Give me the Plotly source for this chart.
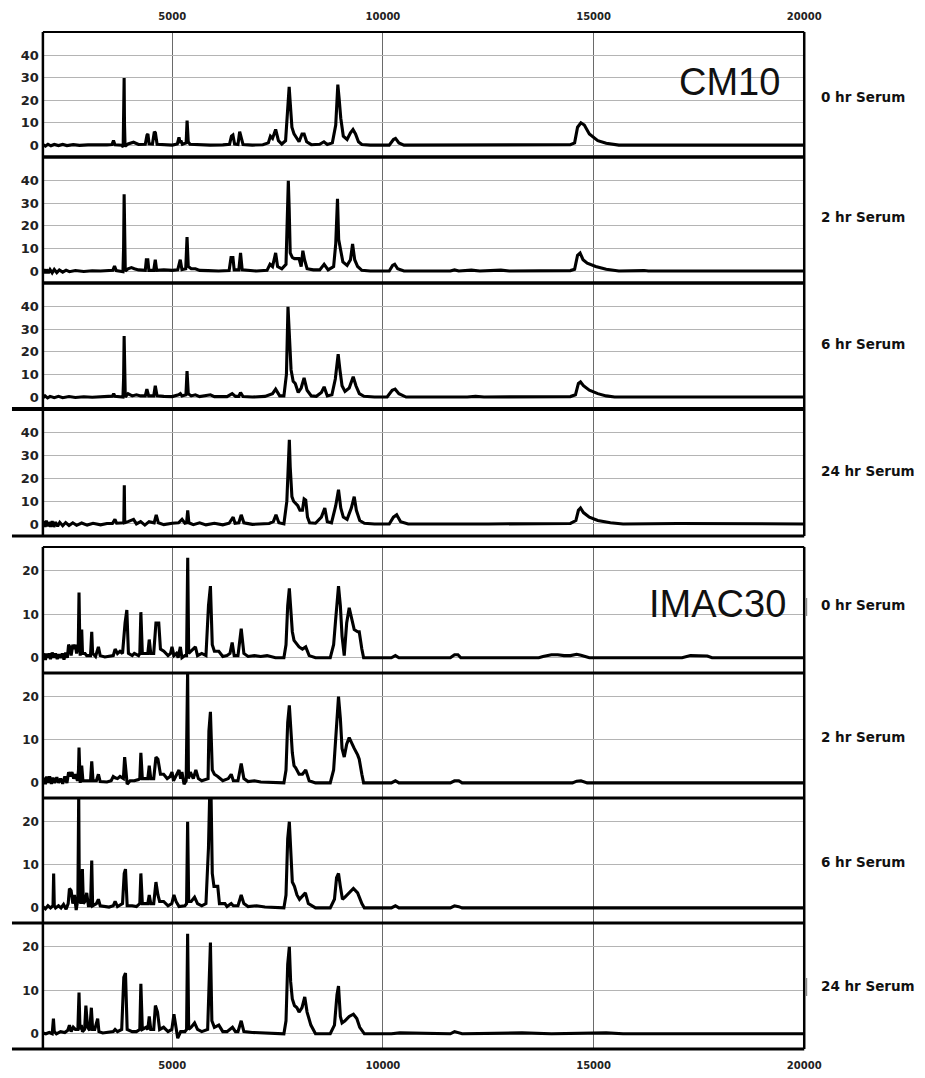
import plotly.graph_objects as go

W, H = 925, 1078
W_EFF = 910  # effective horizontal extent observed in the rendered page

# ---------------- data ----------------
mass_range = [1930, 20000]
mass_ticks = [5000, 10000, 15000, 20000]
mass_tick_text = ["5000", "10000", "15000", "20000"]
cm10_ticks = [0, 10, 20, 30, 40]
imac_ticks = [0, 10, 20]
cm10_range = [-5.3, 50.5]
imac_range = [-3.5, 25.5]
time_labels = ["0 hr Serum", "2 hr Serum", "6 hr Serum", "24 hr Serum"]
chip_labels = ["CM10", "IMAC30"]

# spectra as flattened (m/z, intensity) vertex pairs
cm10_0h = [1930,0.3, 1990,-0.4, 2050,0.4, 2120,-0.3, 2200,0.3, 2300,-0.2, 2400,0.3, 2500,-0.2, 2650,0.2, 2800,-0.1,
           3000,0.1, 3200,0, 3450,0.1, 3570,0.3, 3605,2, 3640,0.2, 3800,0, 3835,-0.8, 3850,12, 3858,30, 3866,10,
           3880,-0.5, 3950,0.5, 4081,1.3, 4200,0.3, 4360,0.4, 4400,4.5, 4422,5, 4450,0.6, 4530,0.5, 4575,6, 4600,5.5,
           4640,0.4, 4800,0.2, 5000,0, 5120,0.5, 5160,3.5, 5185,1, 5205,2, 5240,0.4, 5330,1, 5352,11, 5380,1.5,
           5420,0.4, 5600,0.2, 5900,0, 6200,0.1, 6360,0.4, 6405,4, 6440,4.5, 6480,0.5, 6560,0.3, 6600,6, 6635,3,
           6680,0.3, 6900,0, 7150,0.2, 7280,1, 7330,4, 7380,3, 7454,7, 7520,2, 7600,0.5, 7690,2, 7745,16, 7775,26,
           7800,19, 7840,8, 7890,5, 7950,3, 8010,1.5, 8080,5, 8130,5, 8190,1.5, 8300,0.2, 8500,0.4, 8600,1.5,
           8680,0.3, 8800,1, 8880,9, 8930,27, 8960,21, 9000,12, 9060,4, 9150,2.5, 9230,5.5, 9290,7, 9350,5,
           9420,1.5, 9500,0.3, 9700,0, 10150,0, 10250,2.5, 10300,3, 10380,1, 10500,0, 11500,0, 12200,0.3, 12350,0,
           13000,0.3, 13200,0, 14000,0.2, 14450,0.2, 14550,1, 14620,8, 14700,10, 14780,9, 14900,5, 15100,2,
           15300,0.8, 15600,0, 20000,0]

cm10_2h = [1930,-0.8, 1960,0.8, 1990,-1, 2020,0.7, 2060,-0.9, 2100,0.6, 2150,-0.8, 2200,0.7, 2260,-0.7, 2320,0.5,
           2400,-0.5, 2480,0.4, 2560,-0.3, 2700,0.2, 2900,-0.2, 3100,0.1, 3300,0, 3500,0.1, 3590,0.3, 3630,2.2,
           3670,0.2, 3830,-0.3, 3845,10, 3858,34, 3868,10, 3885,0, 3950,1, 4030,1.5, 4100,1, 4200,0.5, 4360,0.3,
           4385,5, 4420,5, 4445,0.3, 4560,0.3, 4597,5, 4630,0.3, 4800,0.5, 5000,0.3, 5130,0.5, 5190,5, 5230,0.6,
           5320,1, 5351,15, 5380,2, 5450,1, 5550,1, 5650,0.3, 5850,0.2, 6100,0, 6350,0.2, 6395,6, 6440,6, 6470,0.5,
           6580,0.5, 6621,8, 6660,0.5, 6800,0.3, 7000,0, 7250,0.3, 7320,3, 7380,2, 7454,8, 7500,2, 7600,1, 7700,3,
           7740,28, 7755,40, 7775,28, 7800,8, 7850,6, 7900,5.5, 7960,5.5, 8010,5.5, 8060,2, 8100,9, 8140,5, 8200,1,
           8350,0.5, 8500,0.5, 8605,3, 8700,0.5, 8830,2, 8880,12, 8922,32, 8950,14, 8990,10, 9050,4, 9150,2.5,
           9230,5, 9280,12, 9330,5, 9400,2, 9500,0.3, 9700,0, 10150,0, 10230,2.5, 10280,3, 10350,1, 10500,0,
           11600,0, 11700,0.5, 11800,0, 12100,0.4, 12300,0, 12800,0.4, 13000,0, 14450,0.2, 14550,0.8, 14620,7,
           14680,8, 14750,5, 14850,3.5, 15050,2, 15300,0.8, 15600,0, 16200,0.2, 16300,0, 20000,0]

cm10_6h = [1930,-0.4, 1980,0.5, 2040,-0.4, 2100,0.3, 2200,-0.3, 2300,0.3, 2400,-0.3, 2550,0.2, 2700,-0.2, 2900,0.1,
           3100,-0.1, 3300,0, 3500,0.2, 3580,0.4, 3610,1.5, 3640,0.3, 3830,0, 3845,8, 3858,27, 3868,8, 3885,0,
           3950,1.5, 4050,0.5, 4150,1, 4250,0.5, 4360,0.5, 4398,3.5, 4440,0.5, 4560,0.5, 4597,5, 4640,0.5, 4800,0.3,
           5000,0.2, 5150,1, 5192,1.5, 5230,0.5, 5325,1, 5351,11.5, 5380,1.5, 5450,0.5, 5549,1, 5650,0.2, 5906,1,
           6000,0.2, 6300,0.2, 6422,1.5, 6500,0.3, 6580,0.3, 6621,2, 6680,0.2, 6900,0, 7200,0.3, 7380,1.5, 7454,3.5,
           7550,0.5, 7650,0.5, 7710,10, 7747,40, 7780,28, 7820,12, 7870,7, 7920,6, 7990,2, 8060,4, 8129,8.5,
           8200,3, 8300,0.5, 8420,0.3, 8540,2, 8605,4.5, 8680,0.5, 8790,1, 8870,8, 8938,19, 8980,12, 9030,5,
           9100,2.5, 9200,4, 9295,9, 9360,5, 9440,1.5, 9550,0.3, 9800,0, 10100,0, 10220,3, 10290,3.5, 10380,1.5,
           10550,0, 12000,0, 12200,0.3, 12400,0, 14450,0.2, 14570,1, 14640,6, 14690,6.7, 14760,5, 14900,3,
           15100,1.5, 15300,0.5, 15500,0, 20000,0]

cm10_24h = [1930,-0.8, 1950,1.2, 1980,-1.3, 2010,1.5, 2040,-1, 2070,0.8, 2110,-1.2, 2150,1.2, 2190,-1.3, 2230,0.8,
            2280,-1, 2330,0.7, 2400,-0.8, 2470,0.6, 2550,-0.7, 2640,0.5, 2730,-0.6, 2850,0.4, 2980,-0.5, 3120,0.3,
            3300,-0.4, 3450,0.2, 3580,0.2, 3640,2, 3680,0.3, 3850,0.5, 3862,17, 3872,0.5, 3950,1, 4081,2, 4150,0,
            4250,1, 4350,-0.5, 4450,1, 4570,0.5, 4620,4, 4670,0.5, 4800,-0.3, 5000,0.3, 5150,0.5, 5232,2, 5300,0.3,
            5340,0.5, 5367,6, 5395,0.5, 5500,-0.3, 5650,0.5, 5800,-0.4, 6000,0.3, 6200,-0.4, 6350,0.3, 6420,2,
            6446,3, 6490,0.3, 6580,0.5, 6637,4, 6700,0.5, 6900,-0.2, 7100,0, 7300,0.2, 7400,1, 7462,4, 7530,0.5,
            7650,0, 7720,10, 7760,25, 7779,37, 7800,25, 7840,12, 7880,10, 7930,9, 7980,8, 8030,6, 8090,6, 8130,11,
            8168,10.5, 8210,3, 8260,0.5, 8400,0.3, 8540,3, 8621,7, 8680,1, 8780,0.5, 8880,8, 8946,15, 9000,7,
            9060,3, 9150,2, 9250,7, 9319,12, 9370,6, 9450,1.5, 9560,0.3, 9800,0, 10150,0, 10250,3, 10327,4,
            10420,1, 10600,0, 11600,0, 11800,-0.2, 12500,0, 14450,0.2, 14580,1.5, 14640,6, 14690,7, 14760,5,
            14900,3, 15100,1.5, 15400,0.5, 15700,0, 17000,0.2, 20000,0]

imac_0h = [1930,0.3, 1960,1, 1990,-0.5, 2020,1, 2050,0, 2080,1, 2110,-0.3, 2150,1.2, 2190,0, 2230,1, 2270,-0.3,
           2310,0.8, 2350,0, 2390,1, 2430,-0.4, 2470,1.2, 2510,0, 2540,3, 2570,2.5, 2600,0.5, 2640,3, 2670,2,
           2700,3, 2730,1, 2770,3, 2787,15, 2800,7, 2815,0.5, 2851,6.5, 2870,1, 2930,1, 2970,0.5, 3060,0.5, 3089,6,
           3110,1, 3180,0.3, 3247,2.5, 3290,0.5, 3400,0.2, 3500,0.3, 3600,0.5, 3644,2, 3700,1, 3760,1.5, 3820,1,
           3880,8, 3922,11, 3960,1, 4050,0.5, 4100,1, 4200,0.5, 4230,1, 4255,10.5, 4290,1, 4380,1, 4420,1, 4454,4.2,
           4490,1, 4560,1, 4613,8, 4680,8, 4720,2, 4800,1.5, 4900,0.5, 4960,1, 4994,2.5, 5040,0.5, 5100,1, 5140,0,
           5192,2.5, 5230,0, 5300,0.5, 5340,0.5, 5367,23, 5390,1, 5450,1.5, 5549,2.5, 5600,0.5, 5700,1, 5800,0.5,
           5860,12, 5906,16.5, 5950,3, 6000,1.5, 6105,1.5, 6200,0.3, 6300,0.5, 6370,1, 6422,3.5, 6470,0.5,
           6560,0.5, 6637,6.7, 6700,1, 6800,0.3, 6950,0.5, 7100,0.3, 7250,0.5, 7450,0, 7650,0, 7700,3, 7740,12,
           7779,16, 7810,12, 7850,6, 7890,4, 7930,3.5, 8010,2.5, 8090,2, 8168,2.5, 8250,0.5, 8400,0, 8750,0,
           8830,3, 8880,9, 8946,16.5, 8990,12, 9030,5, 9082,0.5, 9140,8, 9200,11.5, 9260,9, 9319,6.5, 9400,6,
           9438,6, 9500,2, 9542,0, 10200,0, 10296,0.5, 10380,0, 11600,0, 11700,0.7, 11780,0.7, 11850,0, 13700,0,
           13800,0.3, 14000,0.7, 14150,0.7, 14300,0.5, 14450,0.5, 14600,0.8, 14700,0.6, 14900,0, 17100,0,
           17300,0.5, 17700,0.4, 17811,0, 20000,0]

imac_2h = [1930,0.3, 1960,1.2, 1990,-0.3, 2020,1.5, 2050,0, 2090,1.5, 2130,-0.2, 2170,1.2, 2210,0, 2260,1.3, 2300,0,
           2350,1, 2400,-0.2, 2450,1.5, 2500,0, 2540,2.5, 2580,1.5, 2620,2.5, 2660,1, 2700,2, 2750,0.5, 2775,3,
           2787,8.2, 2800,3, 2815,0, 2851,4, 2880,0.5, 2940,0.5, 3060,0.5, 3089,5, 3120,0.5, 3200,0.5, 3247,2,
           3290,0.3, 3450,0.2, 3550,0.5, 3600,1.5, 3644,1.2, 3700,1, 3760,1.5, 3840,1, 3870,6, 3900,2, 3930,-0.3,
           4000,0.5, 4100,0.5, 4200,0.8, 4230,1, 4255,7, 4290,1, 4380,1, 4420,1, 4454,4, 4490,1, 4560,1, 4613,6,
           4660,5.5, 4720,2, 4795,2, 4880,1, 4950,1.5, 4994,2.5, 5030,0.5, 5100,2, 5160,3, 5200,1, 5230,2.5,
           5280,-0.3, 5330,0.5, 5365,26, 5385,1, 5430,2.5, 5500,1, 5560,3, 5620,1, 5700,0.5, 5850,1, 5870,12,
           5906,16.5, 5950,3, 6000,2, 6080,1.5, 6200,0.5, 6330,1, 6400,2, 6450,0.5, 6560,0.5, 6637,4.5, 6700,1,
           6800,0.3, 6950,0.5, 7100,0.2, 7450,0, 7650,0, 7700,3, 7740,14, 7779,18, 7810,12, 7850,7, 7890,4,
           7930,3.5, 8010,2, 8090,2, 8168,3, 8250,0.5, 8400,0, 8750,0, 8830,3, 8890,12, 8946,20, 8990,15, 9030,8,
           9082,6, 9140,9, 9200,10.5, 9260,9, 9319,8, 9400,6.5, 9438,5.5, 9500,2, 9542,0, 10200,0, 10296,0.5,
           10380,0, 11600,0, 11700,0.5, 11800,0.5, 11880,0, 14500,0, 14600,0.4, 14700,0.5, 14850,0, 20000,0]

imac_6h = [1930,0.3, 1990,-0.2, 2050,0.5, 2110,0, 2170,0.5, 2185,8, 2200,0.5, 2230,0, 2300,0.5, 2360,0, 2420,0.8,
           2480,-0.3, 2530,1, 2560,4.5, 2600,4, 2640,1, 2680,3, 2720,-0.5, 2760,2, 2780,27, 2795,2, 2830,1,
           2867,9, 2890,1, 2930,1.5, 2970,3.5, 3010,0.5, 3060,0.5, 3089,11, 3110,0.5, 3200,1, 3247,2, 3290,0.5,
           3500,0.2, 3600,0.5, 3644,1.5, 3700,0.3, 3820,1, 3860,8, 3890,9, 3930,0.5, 4050,0.5, 4150,0.3, 4230,1,
           4255,8, 4290,1, 4380,1, 4420,1, 4454,3, 4490,1, 4560,1, 4613,6, 4660,3, 4700,1.5, 4795,1.5, 4900,0.5,
           4990,1, 5040,3, 5090,1.5, 5160,0.3, 5300,0.5, 5340,1, 5365,20, 5390,1.5, 5450,1.5, 5530,2.5, 5600,1,
           5700,0.5, 5800,1, 5860,14, 5890,27, 5920,27, 5950,8, 5990,5, 6040,5, 6080,5, 6120,1, 6250,1, 6300,0.3,
           6400,1, 6450,0.5, 6560,0.5, 6637,3, 6700,1, 6800,0.3, 7000,0.5, 7200,0.2, 7450,0, 7650,0, 7700,3,
           7740,16, 7779,20, 7810,12, 7850,6, 7900,5, 7960,3, 8020,2, 8100,3, 8160,3.5, 8230,1, 8400,0, 8750,0,
           8850,2, 8900,7, 8946,8, 8990,5, 9040,2, 9100,2.5, 9200,3.5, 9300,4.5, 9400,3.5, 9500,1, 9560,0,
           10200,0, 10296,0.5, 10380,0, 11600,0, 11700,0.5, 11800,0.3, 11880,0, 20000,0]

imac_24h = [1930,0.2, 2000,0, 2080,0.3, 2150,0, 2180,3.5, 2200,0.5, 2250,0, 2350,0.5, 2450,0.3, 2520,0.8, 2560,2,
            2600,0.5, 2650,1.5, 2700,1, 2760,1, 2787,9.5, 2810,1, 2840,2, 2870,0.5, 2920,1, 2950,6.5, 2990,1.5,
            3040,0.8, 3080,6, 3110,1, 3160,1, 3230,3.5, 3260,0.5, 3350,0.2, 3500,0.3, 3600,0.5, 3644,1, 3700,0.5,
            3800,1, 3850,13, 3890,14, 3930,1, 4050,0.5, 4150,0.5, 4230,1, 4255,11.5, 4290,1, 4380,1.5, 4420,1,
            4454,4, 4490,1, 4560,1, 4600,6.5, 4650,5, 4700,1, 4795,1.5, 4900,0.5, 4990,1, 5040,4.5, 5080,2,
            5130,-1, 5200,0.5, 5300,0.5, 5340,1, 5365,23, 5390,1, 5450,1.5, 5530,2.5, 5600,1, 5700,0.5, 5840,1,
            5870,10, 5906,21, 5940,3, 6000,1.5, 6105,2, 6200,0.5, 6300,0.5, 6430,1.5, 6500,0.5, 6560,0.5, 6637,3,
            6700,0.5, 6900,0.3, 7100,0.2, 7450,0, 7650,0, 7700,3, 7740,16, 7779,20, 7810,12, 7850,8, 7900,6.5,
            7960,6, 8010,5, 8080,6, 8145,8.5, 8200,5, 8290,2, 8400,0, 8750,0, 8850,2, 8910,9, 8946,11, 8990,4,
            9030,2.5, 9100,3, 9200,4, 9300,4.5, 9380,3.5, 9450,1.5, 9560,0, 10200,0, 10400,0.2, 11600,0,
            11700,0.5, 11800,0.3, 11880,0, 13300,0.2, 14000,0, 15300,0.2, 15700,0, 20000,0]

spectra = [cm10_0h, cm10_2h, cm10_6h, cm10_24h, imac_0h, imac_2h, imac_6h, imac_24h]

# ---------------- layout geometry (pixels) ----------------
panel_top = [32, 157, 283, 409, 547, 673, 798, 923]
panel_bot = [157, 283, 409, 536, 673, 798, 923, 1049]
label_y = [97, 217, 344, 471, 605, 737, 862, 986]
plot_left, plot_right = 43, 806

def px(x):
    return x / W_EFF

def py(y):
    return 1 - y / H

fig = go.Figure()
layout = dict(
    width=W, height=H, autosize=False, margin=dict(l=0, r=0, t=0, b=0, pad=0),
    paper_bgcolor="white", plot_bgcolor="white", showlegend=False,
    font=dict(family="DejaVu Sans", color="#1a1a1a"),
)

tick_font = dict(family="DejaVu Sans", size=10, color="#222", weight="bold")
for i, spec in enumerate(spectra):
    n = i + 1
    xa = "xaxis" if n == 1 else f"xaxis{n}"
    ya = "yaxis" if n == 1 else f"yaxis{n}"
    is_cm10 = i < 4
    fig.add_trace(go.Scatter(
        x=spec[0::2], y=spec[1::2], mode="lines",
        line=dict(color="black", width=3.1, shape="linear"),
        xaxis="x" if n == 1 else f"x{n}", yaxis="y" if n == 1 else f"y{n}",
        hoverinfo="skip",
    ))
    show_x = n in (1, 8)
    layout[xa] = dict(
        domain=[px(plot_left), px(plot_right)], range=mass_range,
        anchor="y" if n == 1 else f"y{n}",
        tickvals=mass_ticks, ticktext=mass_tick_text,
        showgrid=True, gridcolor="#6a6a6a", gridwidth=1,
        zeroline=False, showline=False, ticks="",
        showticklabels=show_x, side="top" if n == 1 else "bottom",
        tickfont=tick_font, ticklabelstandoff=9,
    )
    layout[ya] = dict(
        domain=[py(panel_bot[i]), py(panel_top[i])],
        range=cm10_range if is_cm10 else imac_range,
        anchor="x" if n == 1 else f"x{n}",
        tickvals=cm10_ticks if is_cm10 else imac_ticks,
        showgrid=True, gridcolor="#b4b4b4", gridwidth=1.3,
        zeroline=False, showline=False, ticks="",
        tickfont=dict(family="DejaVu Sans", size=13 if is_cm10 else 12, color="#222", weight="bold"),
        ticklabelstandoff=3,
    )

shapes = []
def hline(y, x0, x1, w, color="black"):
    shapes.append(dict(type="line", xref="paper", yref="paper", x0=px(x0), x1=px(x1),
                       y0=py(y), y1=py(y), line=dict(color=color, width=w)))

def vline(x, y0, y1, w, color="black"):
    shapes.append(dict(type="line", xref="paper", yref="paper", x0=px(x), x1=px(x),
                       y0=py(y0), y1=py(y1), line=dict(color=color, width=w)))

# CM10 block borders
vline(plot_left, 32, 536, 2.5)
vline(plot_right, 32, 536, 2.5)
hline(32, plot_left, plot_right, 2.2)
for y in (157, 283):
    hline(y, plot_left, plot_right, 3.5)
hline(409, 12, plot_right, 4)
hline(536, 12, plot_right, 3)
# IMAC30 block borders
vline(plot_left, 547, 1049, 2.5)
vline(plot_right, 547, 1049, 2.5)
hline(547, plot_left, plot_right, 2.2)
for y in (673, 798):
    hline(y, plot_left, plot_right, 3)
hline(923, 12, plot_right, 3)
hline(1049, 12, plot_right, 3)
# small marks at right edge
vline(plot_right + 2, 598, 616, 2, "#8a8a8a")
vline(plot_right + 2, 978, 996, 2, "#8a8a8a")
layout["shapes"] = shapes

annotations = []
for i in range(8):
    annotations.append(dict(
        text=time_labels[i % 4], xref="paper", yref="paper",
        x=px(821), y=py(label_y[i]), xanchor="left", yanchor="middle", showarrow=False,
        font=dict(family="DejaVu Sans", size=13.5, color="#111", weight="bold"),
    ))
annotations.append(dict(text=chip_labels[0], xref="paper", yref="paper", x=px(731), y=py(82),
                        xanchor="center", yanchor="middle", showarrow=False,
                        font=dict(family="Liberation Sans", size=38, color="#111")))
annotations.append(dict(text=chip_labels[1], xref="paper", yref="paper", x=px(719), y=py(604),
                        xanchor="center", yanchor="middle", showarrow=False,
                        font=dict(family="Liberation Sans", size=38, color="#111")))
layout["annotations"] = annotations

fig.update_layout(**layout)
fig.write_html("out.html", config={"responsive": False})
